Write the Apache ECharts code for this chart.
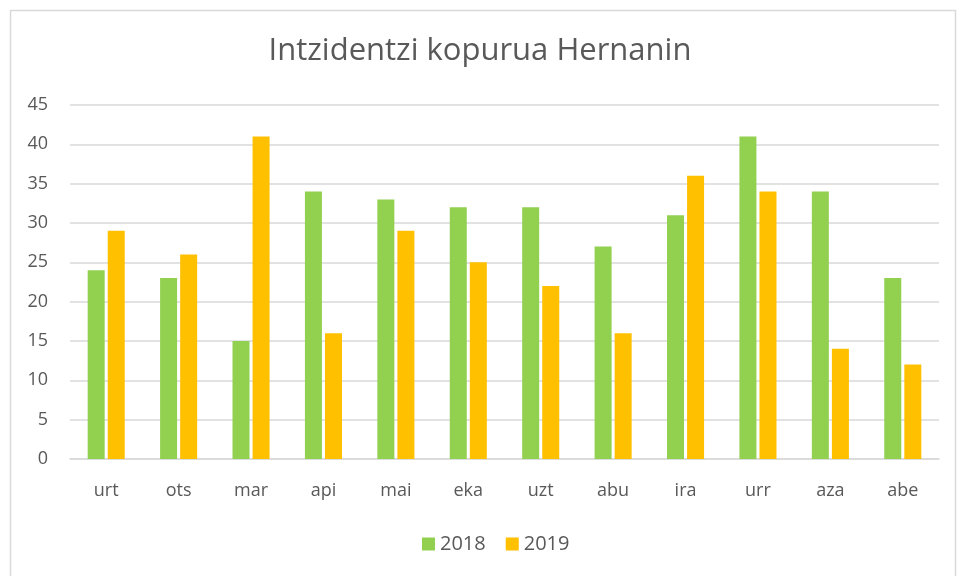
<!DOCTYPE html>
<html>
<head>
<meta charset="utf-8">
<script src="https://cdn.jsdelivr.net/npm/echarts@6/dist/echarts.min.js"></script>
<style>
	html, body { margin: 0; padding: 0; background: #fff; }
	#chart { width: 960px; height: 576px; }
</style>
</head>
<body>
<div id="chart"></div>
<script>
	'use strict';

	var months = ['urt', 'ots', 'mar', 'api', 'mai', 'eka', 'uzt', 'abu', 'ira', 'urr', 'aza', 'abe'];
	var values2018 = [24, 23, 15, 34, 33, 32, 32, 27, 31, 41, 34, 23];
	var values2019 = [29, 26, 41, 16, 29, 25, 22, 16, 36, 34, 14, 12];

	var textColor = '#595959';
	var fontFamily = '"Open Sans", "DejaVu Sans", sans-serif';

	var chart = echarts.init(document.getElementById('chart'), null, { renderer: 'canvas' });

	chart.setOption({
		animation: false,
		backgroundColor: '#fff',
		textStyle: { fontFamily: fontFamily },
		graphic: [{
			type: 'rect',
			shape: { x: 10.5, y: 10.5, width: 945, height: 570 },
			style: { fill: 'none', stroke: '#d9d9d9', lineWidth: 1.5 }
		}],
		title: {
			text: 'Intzidentzi kopurua Hernanin',
			left: 'center',
			top: 31,
			textStyle: { color: textColor, fontSize: 31, fontWeight: 'normal', fontFamily: fontFamily }
		},
		legend: {
			bottom: 17,
			left: 495,
			itemWidth: 13,
			itemHeight: 13,
			itemGap: 20,
			icon: 'rect',
			textStyle: { color: textColor, fontSize: 20, fontFamily: fontFamily },
			data: ['2018', '2019']
		},
		grid: { left: 70, right: 21, top: 105, bottom: 117, containLabel: false },
		xAxis: {
			type: 'category',
			data: months,
			axisLine: { lineStyle: { color: '#d9d9d9', width: 1.5 } },
			axisTick: { show: false },
			axisLabel: { color: textColor, fontSize: 18, margin: 23, fontFamily: fontFamily }
		},
		yAxis: {
			type: 'value',
			min: 0,
			max: 45,
			interval: 5,
			axisLine: { show: false },
			axisTick: { show: false },
			axisLabel: { color: textColor, fontSize: 18, margin: 22, fontFamily: fontFamily },
			splitLine: { lineStyle: { color: '#d9d9d9', width: 1.5 } }
		},
		series: [{
			name: '2018',
			type: 'bar',
			data: values2018,
			barWidth: 17,
			barGap: '18%',
			itemStyle: { color: '#92d050' }
		}, {
			name: '2019',
			type: 'bar',
			data: values2019,
			barWidth: 17,
			barGap: '18%',
			itemStyle: { color: '#ffc000' }
		}]
	});

	// centre the legend block the way the reference does (slightly right of page centre)
	chart.setOption({ legend: { left: 417 } });
</script>
</body>
</html>
